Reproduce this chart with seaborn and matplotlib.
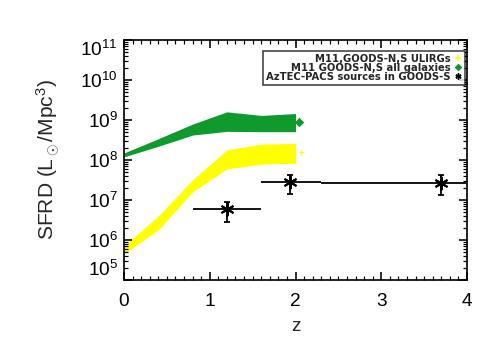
import numpy as np
import matplotlib
matplotlib.use('Agg')
import matplotlib.pyplot as plt
from matplotlib.ticker import MultipleLocator, LogLocator, NullFormatter, FixedLocator
from matplotlib.lines import Line2D
import seaborn as sns

# M11 bands, knots in redshift
band_z = [0.0, 0.4, 0.8, 1.2, 1.6, 2.0]
# all galaxies (green)
all_hi = [1.5e8, 3.4e8, 7.9e8, 1.6e9, 1.3e9, 1.45e9]
all_lo = [1.2e8, 2.2e8, 4.2e8, 5.2e8, 5.1e8, 5.1e8]
# ULIRGs (yellow)
ulirg_hi = [7.1e5, 4.0e6, 3.2e7, 1.8e8, 2.5e8, 2.6e8]
ulirg_lo = [4.5e5, 1.8e6, 1.6e7, 6.0e7, 7.9e7, 8.3e7]

# AzTEC-PACS sources in GOODS-S
aztec_z = [1.2, 1.94, 3.7]
aztec_zlo = [0.8, 1.6, 2.3]
aztec_zhi = [1.6, 2.3, 4.0]
aztec_sfrd = [6.0e6, 2.8e7, 2.7e7]
aztec_lo = [2.9e6, 1.4e7, 1.3e7]
aztec_hi = [9.1e6, 4.2e7, 4.2e7]

yellow = '#FFFF00'
green = '#0E9A2C'

sns.set_style('ticks')
plt.rcParams['font.family'] = ['Liberation Sans', 'DejaVu Sans']
plt.rcParams['mathtext.fontset'] = 'custom'
plt.rcParams['mathtext.rm'] = 'Liberation Sans'
plt.rcParams['mathtext.it'] = 'Liberation Sans'
plt.rcParams['axes.axisbelow'] = False
# tick style through rcParams as well
for a in ['xtick', 'ytick']:
    plt.rcParams[a + '.direction'] = 'in'
    plt.rcParams[a + '.major.size'] = 8
    plt.rcParams[a + '.major.width'] = 1.6
    plt.rcParams[a + '.minor.size'] = 4
    plt.rcParams[a + '.minor.width'] = 1.2
    plt.rcParams[a + '.color'] = 'black'
    plt.rcParams[a + '.labelsize'] = 19
plt.rcParams['xtick.top'] = True
plt.rcParams['ytick.right'] = True

fig, ax = plt.subplots(figsize=(7, 5), dpi=72)
fig.subplots_adjust(left=124/504, right=467/504, bottom=80/360, top=320/360)

ax.fill_between(band_z, all_lo, all_hi, color=green, lw=0)
ax.fill_between(band_z, ulirg_lo, ulirg_hi, color=yellow, lw=0)
ax.plot([2.04], [9.1e8], marker='D', ms=6, color=green, ls='none')
ax.plot([2.06], [1.6e8], marker='+', ms=5, mew=1.2, color=yellow, ls='none')

z = np.array(aztec_z)
s = np.array(aztec_sfrd)
xerr = [z - np.array(aztec_zlo), np.array(aztec_zhi) - z]
yerr = [s - np.array(aztec_lo), np.array(aztec_hi) - s]
ax.errorbar(z, s, xerr=xerr, fmt='none', ecolor='black', elinewidth=1.8, capsize=0)
ax.errorbar(z, s, yerr=yerr, fmt='none', ecolor='black', elinewidth=1.8, capsize=3, capthick=1.8)
sns.scatterplot(x=aztec_z, y=aztec_sfrd, ax=ax, marker=(6, 2, 0), s=150,
                color='black', linewidth=2, edgecolor='black', zorder=5)

ax.set_xlim(0, 4)
ax.set_yscale('log')
ax.set_ylim(1e5, 1e11)
ax.xaxis.set_major_locator(MultipleLocator(1))
ax.xaxis.set_minor_locator(MultipleLocator(0.1))
ax.yaxis.set_major_locator(LogLocator(base=10, numticks=20))
minor_y = [m * 10.0**e for e in range(5, 11) for m in range(2, 10)]
ax.yaxis.set_minor_locator(FixedLocator(minor_y))
ax.yaxis.set_minor_formatter(NullFormatter())

ax.tick_params(which='both', direction='in', top=True, right=True,
               labelsize=19, colors='black')
ax.tick_params(which='major', length=8, width=1.6, pad=6)
ax.tick_params(which='minor', length=4, width=1.2)
ax.tick_params(axis='x', which='major', pad=13)
for sp in ax.spines.values():
    sp.set_linewidth(2)

ax.set_xlabel('z', fontsize=19, labelpad=8)
ax.set_ylabel(r'SFRD (L$_\odot$/Mpc$^3$)', fontsize=21, labelpad=18)

handles = [
    Line2D([], [], marker='+', color=yellow, ls='none', ms=6, mew=1.5),
    Line2D([], [], marker='D', color=green, ls='none', ms=4.5),
    Line2D([], [], marker=(6, 2, 0), color='black', ls='none', ms=6, mew=1.5),
]
labels = ['M11,GOODS-N,S ULIRGs', 'M11 GOODS-N,S all galaxies',
          'AzTEC-PACS sources in GOODS-S']
leg = ax.legend(handles, labels, loc='upper right', bbox_to_anchor=(0.995, 0.955),
                markerfirst=False, fancybox=False, frameon=True, edgecolor='black',
                prop={'family': 'DejaVu Sans', 'weight': 'bold', 'size': 10},
                handlelength=0.8, handletextpad=0.4, labelspacing=-0.1,
                borderpad=0.3, borderaxespad=0)
leg.get_frame().set_linewidth(1.5)

# nudge edge labels inward like the original, and make sure tick marks show
fig.canvas.draw()
for t, v in zip(ax.yaxis.get_major_ticks(), ax.yaxis.get_majorticklocs()):
    if np.isclose(v, 1e11):
        t.label1.set_va('top')
    elif np.isclose(v, 1e5):
        t.label1.set_va('bottom')
for axis in [ax.xaxis, ax.yaxis]:
    for ticks, size, width in [(axis.get_major_ticks(), 8, 1.6), (axis.get_minor_ticks(), 4, 1.2)]:
        for t in ticks:
            for ln in (t.tick1line, t.tick2line):
                ln.set_visible(True)
                ln.set_markersize(size)
                ln.set_markeredgewidth(width)
                ln.set_color('black')
                ln.set_zorder(10)

fig.savefig('out.png', dpi=72)
